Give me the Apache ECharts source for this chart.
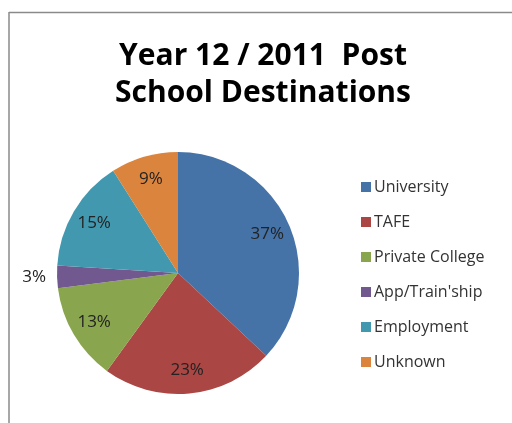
<!DOCTYPE html>
<html>
<head>
<meta charset="utf-8">
<script src="https://cdn.jsdelivr.net/npm/echarts@6/dist/echarts.min.js"></script>
<style>
  html, body { margin: 0; padding: 0; background: #ffffff; }
  #chart { width: 512px; height: 423px; }
</style>
</head>
<body>
<div id="chart"></div>
<script>
// Post-school destinations of the 2011 Year 12 cohort (percent)
const categories = ['University', 'TAFE', 'Private College', "App/Train'ship", 'Employment', 'Unknown'];
const shares = [37, 23, 13, 3, 15, 9];
const colors = ['#4572A7', '#AA4643', '#89A54E', '#71588F', '#4198AF', '#DB843D'];
const titleLines = ['Year 12 / 2011  Post', 'School Destinations'];

const FONT = '"Open Sans", Lato, sans-serif';
const CX = 178, CY = 273, R = 121;

const sliceData = categories.map((name, i) => ({
  name,
  value: shares[i],
  itemStyle: { color: colors[i] }
}));

// Labels sit about 78% of the way out; the thin slice keeps its label outside.
const labelData = categories.map((name, i) => {
  const item = { name, value: shares[i], itemStyle: { color: 'rgba(0,0,0,0)' } };
  if (shares[i] < 5) {
    item.label = { position: 'outside', distanceToLabelLine: 0 };
    item.labelLine = { show: false, length: 2, length2: 9 };
  }
  return item;
});

const chart = echarts.init(document.getElementById('chart'), null, { renderer: 'canvas' });
chart.setOption({
  animation: false,
  backgroundColor: '#ffffff',
  title: {
    text: titleLines.join('\n'),
    left: 258,
    top: 33,
    textAlign: 'center',
    textStyle: {
      fontFamily: FONT,
      fontWeight: 'bold',
      fontSize: 30,
      lineHeight: 37,
      color: '#000000'
    }
  },
  legend: {
    orient: 'vertical',
    left: 356,
    top: 172,
    itemWidth: 10,
    itemHeight: 10,
    itemGap: 15,
    icon: 'rect',
    selectedMode: false,
    data: categories,
    textStyle: {
      fontFamily: FONT,
      fontSize: 16,
      lineHeight: 20,
      color: '#333333',
      padding: [0, 0, 0, -2]
    }
  },
  graphic: [
    { type: 'line', shape: { x1: 9, y1: 12.5, x2: 512, y2: 12.5 }, style: { stroke: '#8a8a8a', lineWidth: 1.5 } },
    { type: 'line', shape: { x1: 9, y1: 12, x2: 9, y2: 423 }, style: { stroke: '#8a8a8a', lineWidth: 1.5 } }
  ],
  series: [
    {
      type: 'pie',
      center: [CX, CY],
      radius: [0, R],
      startAngle: 90,
      clockwise: true,
      label: { show: false },
      labelLine: { show: false },
      emphasis: { disabled: true },
      itemStyle: { borderWidth: 0 },
      data: sliceData
    },
    {
      type: 'pie',
      center: [CX, CY],
      radius: [0.56 * R, R],
      startAngle: 90,
      clockwise: true,
      silent: true,
      emphasis: { disabled: true },
      label: {
        show: true,
        position: 'inside',
        formatter: '{c}%',
        fontFamily: FONT,
        fontSize: 17,
        color: '#222222'
      },
      labelLine: { show: false },
      data: labelData
    }
  ]
});
</script>
</body>
</html>
